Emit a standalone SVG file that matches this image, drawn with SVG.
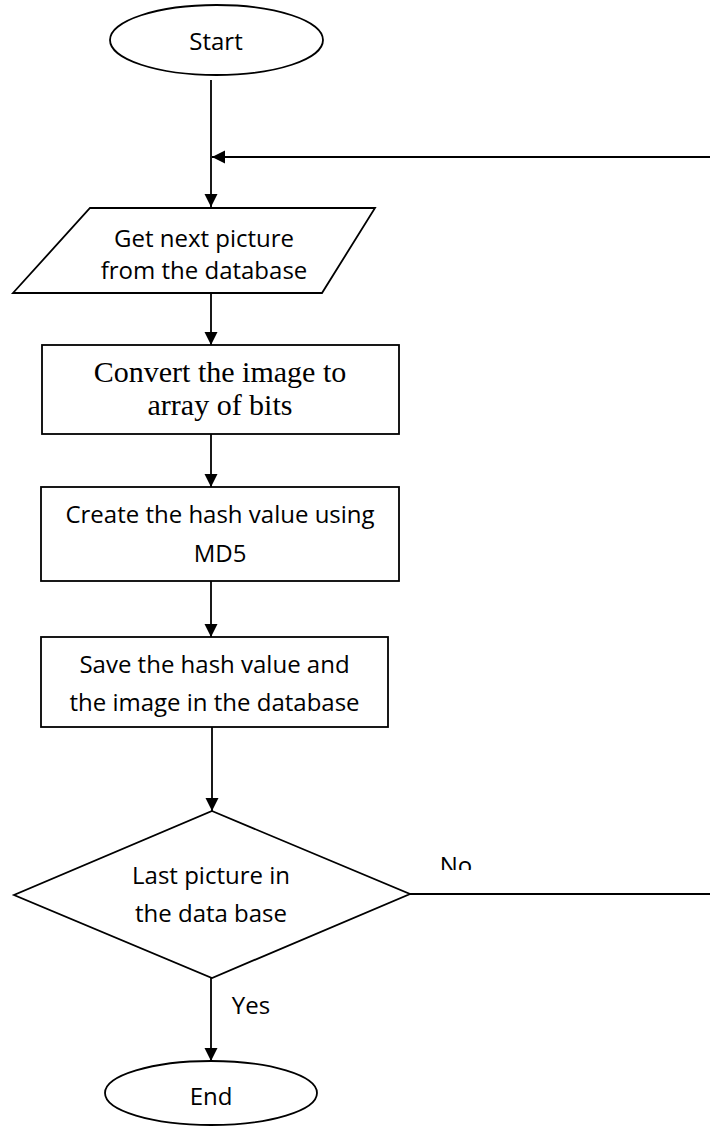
<svg xmlns="http://www.w3.org/2000/svg" width="710" height="1126" viewBox="0 0 710 1126">
  <style>
    .shape { fill: #ffffff; stroke: #000000; stroke-width: 1.8; }
    .conn { fill: none; stroke: #000000; stroke-width: 1.8; }
    .label { font-family: "Open Sans", "Noto Sans", sans-serif; font-size: 24px; fill: #000000; text-anchor: middle; }
    .serif { font-family: "Liberation Serif", "Times New Roman", serif; font-size: 30px; fill: #000000; text-anchor: middle; }
  </style>
  <defs>
    <marker id="arrow" markerUnits="userSpaceOnUse" markerWidth="14" markerHeight="14" refX="13" refY="6.5" orient="auto">
      <path d="M0,0 L13,6.5 L0,13 z" fill="#000000"/>
    </marker>
    <clipPath id="noClip">
      <rect x="420" y="840" width="100" height="30"/>
    </clipPath>
  </defs>
  <rect width="710" height="1126" fill="#ffffff"/>

  <!-- connectors -->
  <g id="connectors">
    <path class="conn" d="M211,80 V207" marker-end="url(#arrow)"/>
    <path class="conn" d="M710,157 H212" marker-end="url(#arrow)"/>
    <path class="conn" d="M211,293 V345" marker-end="url(#arrow)"/>
    <path class="conn" d="M211,434 V487" marker-end="url(#arrow)"/>
    <path class="conn" d="M211,581 V637" marker-end="url(#arrow)"/>
    <path class="conn" d="M212,727 V811" marker-end="url(#arrow)"/>
    <path class="conn" d="M211,978 V1061" marker-end="url(#arrow)"/>
    <path class="conn" d="M410,894 H710"/>
    <text class="label" x="456" y="874" clip-path="url(#noClip)">No</text>
    <text class="label" x="251" y="1014">Yes</text>
  </g>

  <!-- start terminator -->
  <g id="start">
    <ellipse class="shape" cx="216.5" cy="40" rx="106.5" ry="35"/>
    <text class="label" x="216" y="50">Start</text>
  </g>

  <!-- input: next picture -->
  <g id="get-picture">
    <polygon class="shape" points="90,208 375,208 322,293 13,293"/>
    <text class="label" x="204" y="247">Get next picture</text>
    <text class="label" x="204" y="279">from the database</text>
  </g>

  <!-- convert to bits -->
  <g id="convert">
    <rect class="shape" x="42" y="345" width="357" height="89"/>
    <text class="serif" x="220" y="382">Convert the image to</text>
    <text class="serif" x="220" y="415">array of bits</text>
  </g>

  <!-- hash creation -->
  <g id="create-hash">
    <rect class="shape" x="41" y="487" width="358" height="94"/>
    <text class="label" x="220" y="523">Create the hash value using</text>
    <text class="label" x="220" y="562">MD5</text>
  </g>

  <!-- store hash -->
  <g id="save-hash">
    <rect class="shape" x="41" y="637" width="347" height="90"/>
    <text class="label" x="214.5" y="673">Save the hash value and</text>
    <text class="label" x="214.5" y="711">the image in the database</text>
  </g>

  <!-- decision -->
  <g id="last-picture">
    <polygon class="shape" points="212,811 410,894 212,978 14,895"/>
    <text class="label" x="211" y="884">Last picture in</text>
    <text class="label" x="211" y="922">the data base</text>
  </g>

  <!-- end terminator -->
  <g id="end">
    <ellipse class="shape" cx="211" cy="1093" rx="106" ry="32"/>
    <text class="label" x="211" y="1105">End</text>
  </g>
</svg>
